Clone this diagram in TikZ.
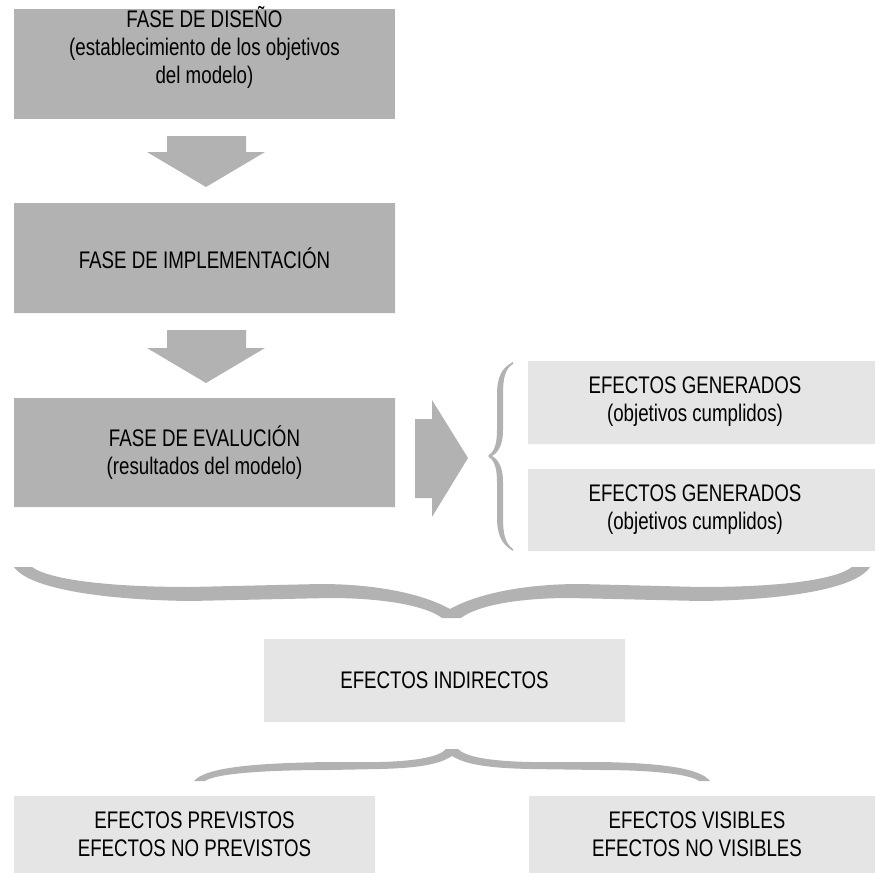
\documentclass[tikz,border=0pt]{standalone}
\usepackage{fontspec}
\setmainfont{Liberation Sans}[FakeStretch=0.78]
\definecolor{oscuro}{HTML}{B2B2B2}
\definecolor{claro}{HTML}{E5E5E5}
\tikzset{
    texto/.style={align=center, inner sep=0pt, text=black, font=\fontsize{12}{14}\selectfont},
}

\begin{document}
\begin{tikzpicture}[x=0.5pt, y=-0.5pt]
    \useasboundingbox (0,0) rectangle (875,873);

    % fases
    \fill[oscuro] (14,9) rectangle (395,119);
    \node[texto] (diseno) at (204.5,47)
        {FASE DE DISEÑO\\(establecimiento de los objetivos\\del modelo)};
    \fill[oscuro]
        (14,203) rectangle node[texto] (implementacion) {FASE DE IMPLEMENTACIÓN} (395,313)
        (14,398) rectangle node[texto] (evaluacion)
            {FASE DE EVALUCIÓN\\(resultados del modelo)} (395,507);

    % flechas
    \fill[oscuro]
        (167,136) -- (246,136) -- (246,152) -- (265,152) -- (206,187)
            -- (147,152) -- (167,152) -- cycle
        (167,330) -- (246,330) -- (246,348) -- (265,348) -- (206,383)
            -- (147,348) -- (167,348) -- cycle
        (415,419) -- (432,419) -- (432,400) -- (468,458) -- (432,517)
            -- (432,498) -- (415,498) -- cycle;

    % efectos generados
    \fill[claro]
        (528,361) rectangle (875,444)
        (528,469) rectangle (875,551);
    \node[texto] (generados) at (695,402) {EFECTOS GENERADOS\\(objetivos cumplidos)};
    \node[texto] (cumplidos) at (695,510) {EFECTOS GENERADOS\\(objetivos cumplidos)};

    % llaves
    \fill[oscuro]
        (513,362) .. controls (501,368) and (497,378) .. (497,395)
            -- (497,430) .. controls (497,445) and (494,452) .. (488,456)
            .. controls (494,460) and (497,467) .. (497,482)
            -- (497,517) .. controls (497,534) and (501,544) .. (513,551)
            -- (513,549) .. controls (505,543) and (503,534) .. (503,517)
            -- (503,482) .. controls (503,468) and (499,460) .. (492,456)
            .. controls (499,452) and (503,444) .. (503,430)
            -- (503,395) .. controls (503,378) and (505,369) .. (513,364) -- cycle

        (14,567) .. controls (30,590) and (110,600) .. (190,601)
            -- (330,598) .. controls (380,598) and (425,605) .. (442,618)
            -- (461,618) .. controls (478,605) and (520,598) .. (570,598)
            -- (700,601) .. controls (780,600) and (855,590) .. (870,567)
            -- (852,567) .. controls (835,580) and (780,587) .. (700,587)
            -- (580,584) .. controls (520,584) and (475,595) .. (450,609)
            .. controls (425,595) and (380,584) .. (320,584)
            -- (190,587) .. controls (110,587) and (50,580) .. (32,567) -- cycle

        (194,781) .. controls (205,768) and (250,763) .. (330,762)
            -- (380,762) .. controls (420,761) and (440,756) .. (446,749)
            -- (458,749) .. controls (465,756) and (485,761) .. (530,762)
            -- (600,762) .. controls (660,763) and (700,768) .. (710,781)
            -- (699,781) .. controls (690,774) and (650,770) .. (600,770)
            -- (530,769) .. controls (485,768) and (465,764) .. (452,756)
            .. controls (440,764) and (420,768) .. (380,769)
            -- (330,770) .. controls (260,770) and (215,774) .. (205,781) -- cycle;

    % efectos indirectos
    \fill[claro]
        (264,639) rectangle node[texto] (indirectos) {EFECTOS INDIRECTOS} (625,722)
        (14,796) rectangle node[texto] (previstos)
            {EFECTOS PREVISTOS\\EFECTOS NO PREVISTOS} (375,873)
        (529,796) rectangle (875,873);
    \node[texto] (visibles) at (697,834) {EFECTOS VISIBLES\\EFECTOS NO VISIBLES};
\end{tikzpicture}
\end{document}
